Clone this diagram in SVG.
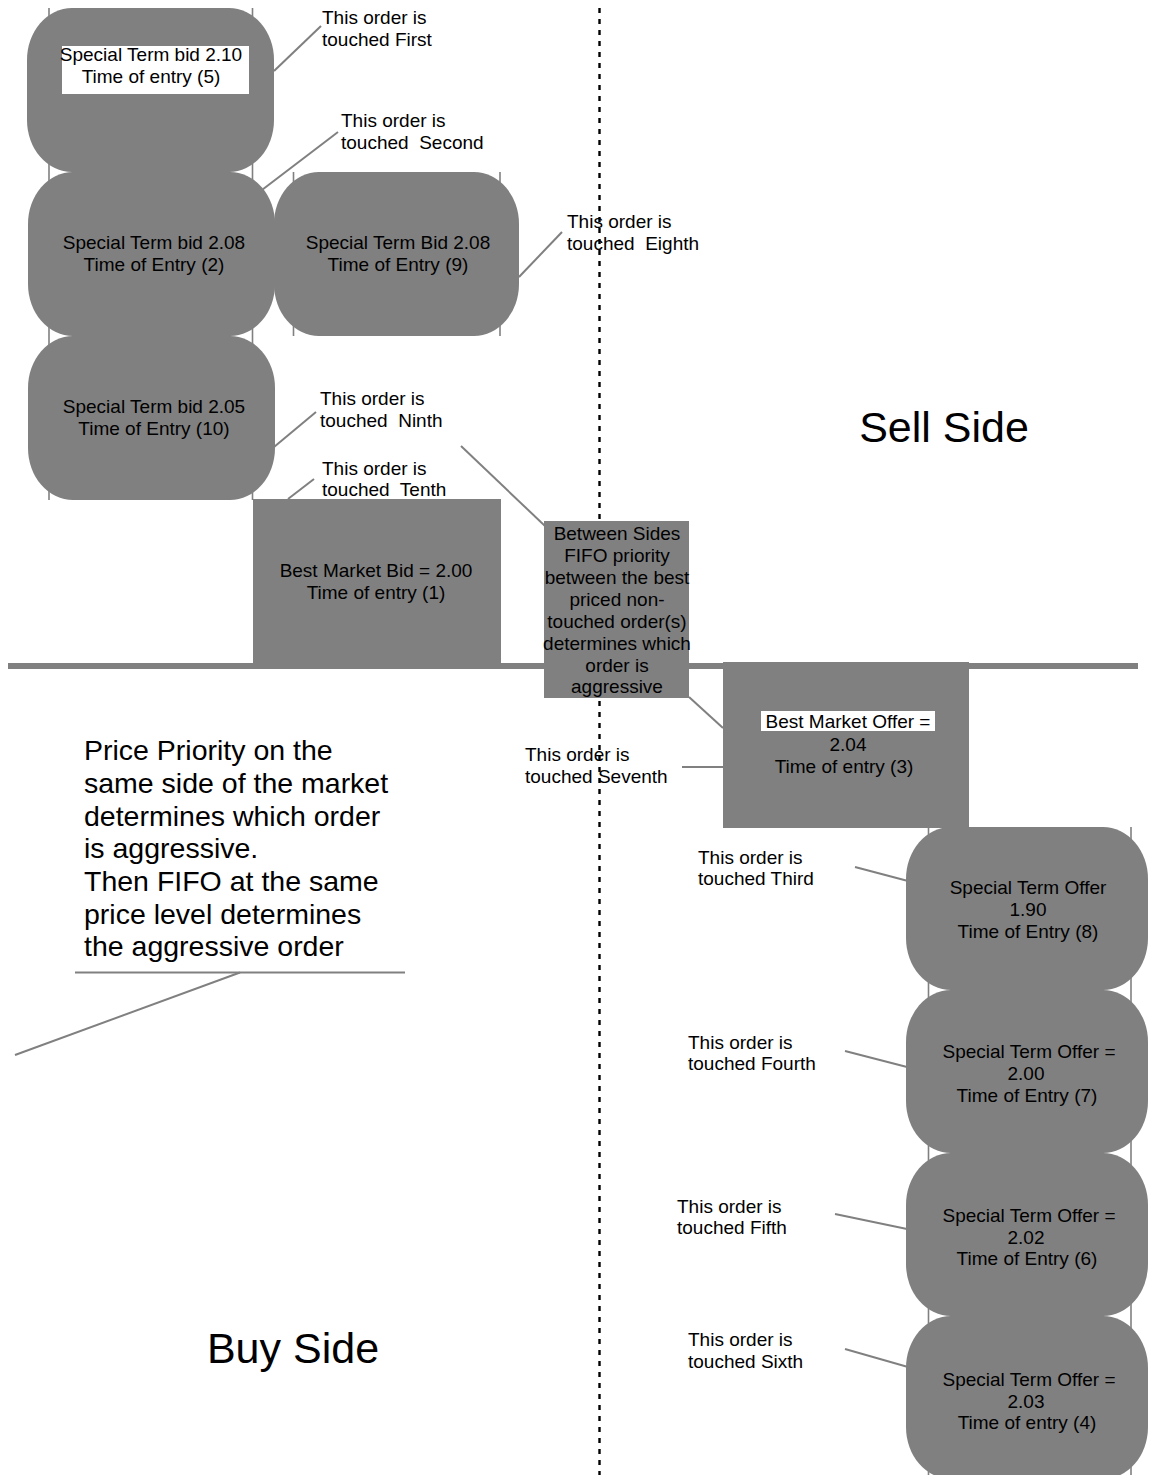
<svg xmlns="http://www.w3.org/2000/svg" width="1149" height="1475" viewBox="0 0 1149 1475">
<style>
text{font-family:"Liberation Sans",Arial,sans-serif;fill:#000;}
.t{font-size:19px;text-anchor:middle;}
.l{font-size:19px;}
.big{font-size:43px;text-anchor:middle;}
.p{font-size:28.5px;}
.shape{fill:#808080;}
.vl{stroke:#808080;stroke-width:1.6;fill:none;}
.cn{stroke:#808080;stroke-width:2;fill:none;}
.dot{stroke:#000;stroke-width:2.4;stroke-dasharray:5 6;fill:none;}
</style>
<rect width="1149" height="1475" fill="#fff"/>
<g id="frame-lines">
<line class="vl" x1="49" y1="8" x2="49" y2="500"/>
<line class="vl" x1="252.5" y1="8" x2="252.5" y2="500"/>
<line class="vl" x1="293.5" y1="172" x2="293.5" y2="336"/>
<line class="vl" x1="500" y1="172" x2="500" y2="336"/>
<line class="vl" x1="928.5" y1="827" x2="928.5" y2="1475"/>
<line class="vl" x1="1131" y1="827" x2="1131" y2="1475"/>
</g>
<g id="market-line">
<line x1="8" y1="666" x2="1138" y2="666" stroke="#808080" stroke-width="6"/>
</g>
<g id="connectors">
<line class="cn" x1="274" y1="71" x2="321" y2="26"/>
<line class="cn" x1="258" y1="193" x2="338" y2="132"/>
<line class="cn" x1="519" y1="277" x2="562" y2="232"/>
<line class="cn" x1="274" y1="447" x2="316" y2="412"/>
<line class="cn" x1="288" y1="499" x2="314" y2="479"/>
<line class="cn" x1="461" y1="446" x2="545" y2="526"/>
<line class="cn" x1="689" y1="697" x2="723" y2="728"/>
<line class="cn" x1="682" y1="767" x2="723" y2="767"/>
<line class="cn" x1="855" y1="867" x2="908" y2="881"/>
<line class="cn" x1="845" y1="1051" x2="907" y2="1067"/>
<line class="cn" x1="835" y1="1214" x2="907" y2="1229"/>
<line class="cn" x1="845" y1="1349" x2="908" y2="1367"/>
<line class="cn" x1="75" y1="972.5" x2="405" y2="972.5"/>
<line class="cn" x1="240" y1="972.5" x2="15" y2="1055"/>
</g>
<g id="labels">
<text class="l" x="322"><tspan x="322" y="24">This order is</tspan><tspan x="322" y="46">touched First</tspan></text>
<text class="l" x="341" xml:space="preserve"><tspan x="341" y="127">This order is</tspan><tspan x="341" y="149">touched  Second</tspan></text>
<text class="l" x="567" xml:space="preserve"><tspan x="567" y="228">This order is</tspan><tspan x="567" y="250">touched  Eighth</tspan></text>
<text class="l" x="320" xml:space="preserve"><tspan x="320" y="405">This order is</tspan><tspan x="320" y="427">touched  Ninth</tspan></text>
<text class="l" x="322" xml:space="preserve"><tspan x="322" y="475">This order is</tspan><tspan x="322" y="496">touched  Tenth</tspan></text>
<text class="l" x="525"><tspan x="525" y="761">This order is</tspan><tspan x="525" y="783">touched Seventh</tspan></text>
<text class="l" x="698"><tspan x="698" y="864">This order is</tspan><tspan x="698" y="885">touched Third</tspan></text>
<text class="l" x="688"><tspan x="688" y="1049">This order is</tspan><tspan x="688" y="1070">touched Fourth</tspan></text>
<text class="l" x="677"><tspan x="677" y="1213">This order is</tspan><tspan x="677" y="1234">touched Fifth</tspan></text>
<text class="l" x="688"><tspan x="688" y="1346">This order is</tspan><tspan x="688" y="1368">touched Sixth</tspan></text>
<text class="big" x="944" y="442">Sell Side</text>
<text class="big" x="293" y="1363">Buy Side</text>
<text class="p"><tspan x="84" y="760">Price Priority on the</tspan><tspan x="84" y="793">same side of the market</tspan><tspan x="84" y="826">determines which order</tspan><tspan x="84" y="858">is aggressive.</tspan><tspan x="84" y="891">Then FIFO at the same</tspan><tspan x="84" y="924">price level determines</tspan><tspan x="84" y="956">the aggressive order</tspan></text>
</g>
<g id="divider">
<line class="dot" x1="599.5" y1="8" x2="599.5" y2="1475"/>
</g>
<g id="bid-2-10">
<rect class="shape" x="27" y="8" width="247" height="164" rx="45" ry="52"/>
<rect x="62" y="46" width="187" height="48" fill="#fff"/>
<text class="t"><tspan x="151" y="61">Special Term bid 2.10</tspan><tspan x="151" y="83">Time of entry (5)</tspan></text>
</g>
<g id="bid-2-08-2">
<rect class="shape" x="28" y="172" width="247" height="164" rx="45" ry="52"/>
<text class="t"><tspan x="154" y="249">Special Term bid 2.08</tspan><tspan x="154" y="271">Time of Entry (2)</tspan></text>
</g>
<g id="bid-2-08-9">
<rect class="shape" x="274" y="172" width="245" height="164" rx="45" ry="52"/>
<text class="t"><tspan x="398" y="249">Special Term Bid 2.08</tspan><tspan x="398" y="271">Time of Entry (9)</tspan></text>
</g>
<g id="bid-2-05">
<rect class="shape" x="28" y="336" width="247" height="164" rx="45" ry="52"/>
<text class="t"><tspan x="154" y="413">Special Term bid 2.05</tspan><tspan x="154" y="435">Time of Entry (10)</tspan></text>
</g>
<g id="best-bid">
<rect class="shape" x="253" y="499" width="248" height="167"/>
<text class="t"><tspan x="376" y="577">Best Market Bid = 2.00</tspan><tspan x="376" y="599">Time of entry (1)</tspan></text>
</g>
<g id="between-sides">
<rect class="shape" x="544" y="521" width="145" height="177"/>
<text class="t"><tspan x="617" y="540">Between Sides</tspan><tspan x="617" y="562">FIFO priority</tspan><tspan x="617" y="584">between the best</tspan><tspan x="617" y="606">priced non-</tspan><tspan x="617" y="628">touched order(s)</tspan><tspan x="617" y="650">determines which</tspan><tspan x="617" y="672">order is</tspan><tspan x="617" y="693">aggressive</tspan></text>
</g>
<g id="best-offer">
<rect class="shape" x="723" y="662" width="246" height="166"/>
<rect x="761" y="711" width="174" height="20" fill="#fff"/>
<text class="t"><tspan x="848" y="728">Best Market Offer =</tspan><tspan x="848" y="751">2.04</tspan><tspan x="844" y="773">Time of entry (3)</tspan></text>
</g>
<g id="offer-1-90">
<rect class="shape" x="906" y="827" width="242" height="163" rx="45" ry="52"/>
<text class="t"><tspan x="1028" y="894">Special Term Offer</tspan><tspan x="1028" y="916">1.90</tspan><tspan x="1028" y="938">Time of Entry (8)</tspan></text>
</g>
<g id="offer-2-00">
<rect class="shape" x="906" y="990" width="242" height="163" rx="45" ry="52"/>
<text class="t"><tspan x="1029" y="1058">Special Term Offer =</tspan><tspan x="1026" y="1080">2.00</tspan><tspan x="1027" y="1102">Time of Entry (7)</tspan></text>
</g>
<g id="offer-2-02">
<rect class="shape" x="906" y="1153" width="242" height="163" rx="45" ry="52"/>
<text class="t"><tspan x="1029" y="1222">Special Term Offer =</tspan><tspan x="1026" y="1244">2.02</tspan><tspan x="1027" y="1265">Time of Entry (6)</tspan></text>
</g>
<g id="offer-2-03">
<rect class="shape" x="906" y="1316" width="242" height="163" rx="45" ry="52"/>
<text class="t"><tspan x="1029" y="1386">Special Term Offer =</tspan><tspan x="1026" y="1408">2.03</tspan><tspan x="1027" y="1429">Time of entry (4)</tspan></text>
</g>
</svg>
